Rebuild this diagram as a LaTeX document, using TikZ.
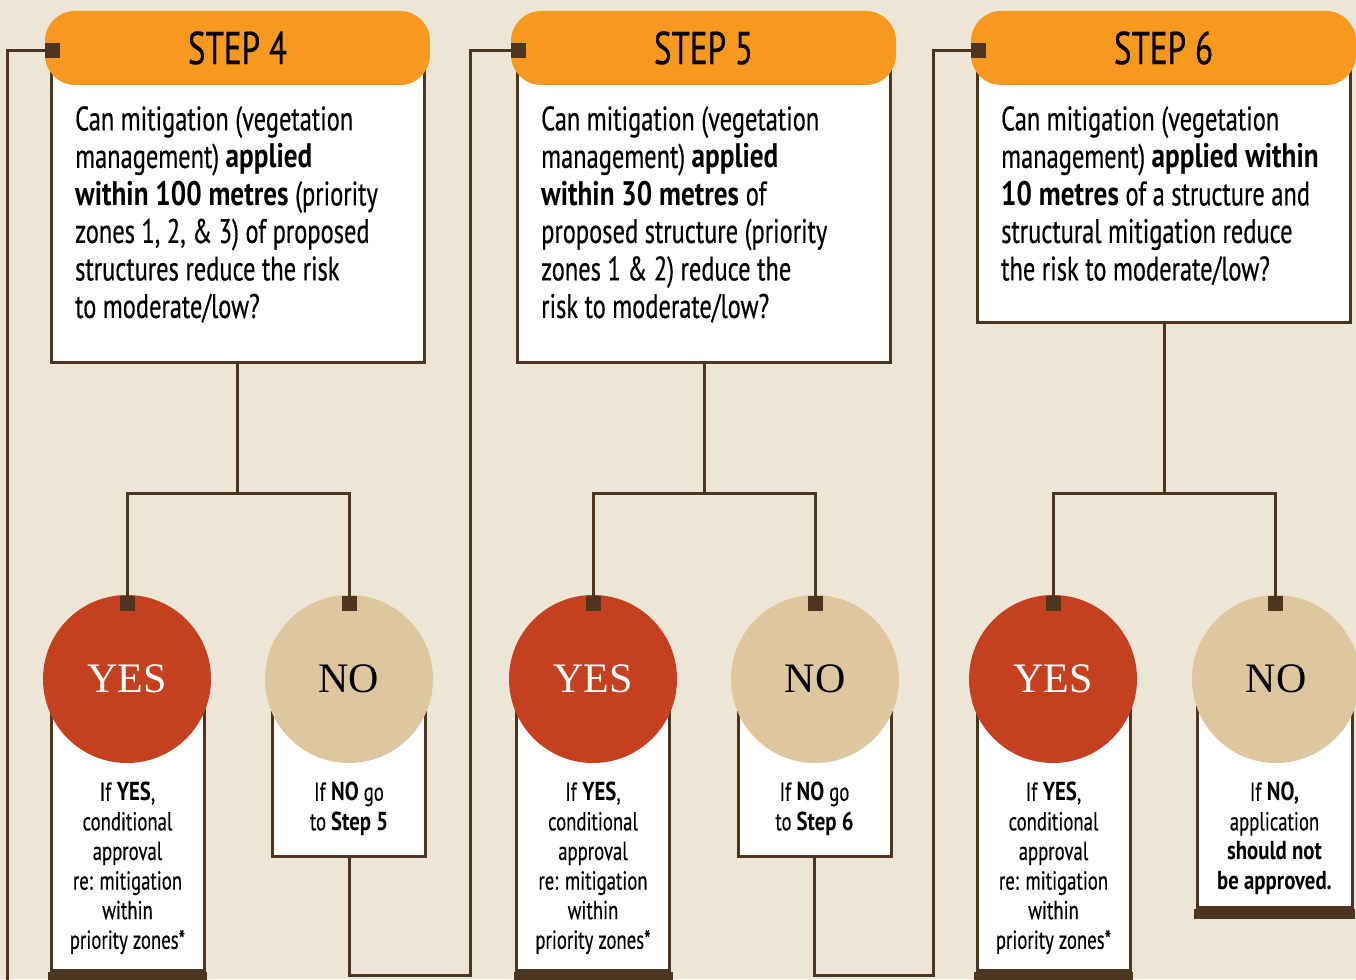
\documentclass[tikz,border=0pt]{standalone}
\usepackage{fontspec}
\setmainfont{PT Sans}[FakeStretch=0.72,
                      UprightFeatures={FakeBold=0.4},
                      BoldFeatures={FakeStretch=0.80}]
\newfontfamily\answerfont{Liberation Serif}

\definecolor{pagebg}{HTML}{EDE5D5}
\definecolor{steporange}{HTML}{F7981F}
\definecolor{linkbrown}{HTML}{4E3520}
\definecolor{yesred}{HTML}{C4401E}
\definecolor{notan}{HTML}{DEC69E}

\tikzset{stephead/.style = {shape = rectangle,
                            rounded corners = 30pt,
                            fill = steporange,
                            minimum width = 385pt,
                            minimum height = 74pt,
                            font=\fontsize{46}{50}\selectfont},
         qbox/.style = {shape = rectangle,
                        fill = white,
                        draw = linkbrown,
                        line width = 3pt,
                        minimum width = 373pt},
         qtext/.style = {anchor = north west,
                         inner sep = 0pt,
                         align = left,
                         font=\fontsize{34}{37.5}\selectfont},
         abox/.style = {shape = rectangle,
                        fill = white,
                        draw = linkbrown,
                        line width = 3pt,
                        minimum width = 153pt},
         atext/.style = {anchor = north,
                         inner sep = 0pt,
                         align = center,
                         font=\fontsize{26}{29.6}\selectfont},
         yesdot/.style = {shape = circle,
                          fill = yesred,
                          text = white,
                          inner sep = 0pt,
                          minimum size = 168pt,
                          font=\answerfont\fontsize{42}{42}\selectfont},
         nodot/.style = {shape = circle,
                         fill = notan,
                         text = black,
                         inner sep = 0pt,
                         minimum size = 168pt,
                         font=\answerfont\fontsize{42}{42}\selectfont},
         tabmark/.style = {shape = rectangle,
                           fill = linkbrown,
                           inner sep = 0pt,
                           minimum size = 15pt},
         link/.style = {draw = linkbrown,
                        line width = 3pt}}

\begin{document}
\begin{tikzpicture}[x=1pt, y=-1pt]
		\fill[pagebg] (0,0) rectangle (1356,979);
		\useasboundingbox (0,0) rectangle (1356,979);

		% step 4
		\node[qbox, minimum height = 312pt] (box4) at (237.5,206) {};
		\node[stephead] (head4) at (237.5,48) {STEP 4};
		\node[tabmark] (step4mark) at (52.5,50.5) {};
		\node[qtext] (q4) at (75,106) {Can mitigation (vegetation\\
			management) \textbf{applied}\\
			\textbf{within 100 metres} (priority\\
			zones 1, 2, \& 3) of proposed\\
			structures reduce the risk\\
			to moderate/low?};
		\node[abox, minimum height = 270pt] (yes4box) at (127.5,835) {};
		\node[abox, minimum height = 156pt] (no4box) at (349,778) {};
		\fill[linkbrown] ([xshift=-1.5pt]yes4box.south west) rectangle ([xshift=1.5pt,yshift=-12pt]yes4box.south east);
		\node[yesdot] (yes4) at (127,679) {YES};
		\node[nodot] (no4) at (349,679) {NO};
		\node[tabmark] (yes4mark) at (127.5,603.5) {};
		\node[tabmark] (no4mark) at (349,603.5) {};
		\node[atext] (yes4txt) at (127.5,782) {If \textbf{YES},\\ conditional\\ approval\\ re: mitigation\\ within\\ priority zones*};
		\node[atext] (no4txt) at (349,782) {If \textbf{NO} go\\ to \textbf{Step 5}};

		% step 5
		\node[qbox, minimum height = 312pt] (box5) at (704,206) {};
		\node[stephead] (head5) at (703.5,48) {STEP 5};
		\node[tabmark] (step5mark) at (518.5,50.5) {};
		\node[qtext] (q5) at (541,106) {Can mitigation (vegetation\\
			management) \textbf{applied}\\
			\textbf{within 30 metres} of\\
			proposed structure (priority\\
			zones 1 \& 2) reduce the\\
			risk to moderate/low?};
		\node[abox, minimum height = 270pt] (yes5box) at (593,835) {};
		\node[abox, minimum height = 156pt] (no5box) at (814.5,778) {};
		\fill[linkbrown] ([xshift=-1.5pt]yes5box.south west) rectangle ([xshift=1.5pt,yshift=-12pt]yes5box.south east);
		\node[yesdot] (yes5) at (593,679) {YES};
		\node[nodot] (no5) at (815,679) {NO};
		\node[tabmark] (yes5mark) at (593,603.5) {};
		\node[tabmark] (no5mark) at (815,603.5) {};
		\node[atext] (yes5txt) at (593,782) {If \textbf{YES},\\ conditional\\ approval\\ re: mitigation\\ within\\ priority zones*};
		\node[atext] (no5txt) at (814.5,782) {If \textbf{NO} go\\ to \textbf{Step 6}};

		% step 6
		\node[qbox, minimum height = 272pt] (box6) at (1164,186) {};
		\node[stephead] (head6) at (1163.5,48) {STEP 6};
		\node[tabmark] (step6mark) at (978.5,50.5) {};
		\node[qtext] (q6) at (1001,106) {Can mitigation (vegetation\\
			management) \textbf{applied within}\\
			\textbf{10 metres} of a structure and\\
			structural mitigation reduce\\
			the risk to moderate/low?};
		\node[abox, minimum height = 270pt] (yes6box) at (1053.5,835) {};
		\node[abox, minimum height = 207pt, minimum width = 155pt] (no6box) at (1274.5,803.5) {};
		\fill[linkbrown] ([xshift=-1.5pt]yes6box.south west) rectangle ([xshift=1.5pt,yshift=-12pt]yes6box.south east);
		\fill[linkbrown] ([xshift=-1.5pt]no6box.south west) rectangle ([xshift=1.5pt,yshift=-10pt]no6box.south east);
		\node[yesdot] (yes6) at (1053,679) {YES};
		\node[nodot] (no6) at (1276,679) {NO};
		\node[tabmark] (yes6mark) at (1053.5,603.5) {};
		\node[tabmark] (no6mark) at (1275.5,603.5) {};
		\node[atext] (yes6txt) at (1053.5,782) {If \textbf{YES},\\ conditional\\ approval\\ re: mitigation\\ within\\ priority zones*};
		\node[atext] (no6txt) at (1274.5,782) {If \textbf{NO,}\\ application\\ \textbf{should not}\\ \textbf{be approved.}};

		% links
		\path[link] (box4.south) -- ++(0,130) -| (yes4mark.north);
		\path[link] (box4.south) -- ++(0,130) -| (no4mark.north);
		\path[link] (box5.south) -- ++(0,130) -| (yes5mark.north);
		\path[link] (box5.south) -- ++(0,130) -| (no5mark.north);
		\path[link] (box6.south) -- ++(0,170) -| (yes6mark.north);
		\path[link] (box6.south) -- ++(0,170) -| (no6mark.north);
		\coordinate (in4) at (7,990);
		\coordinate (turn4) at (470,975);
		\coordinate (turn5) at (933,975);
		\path[link] (in4) |- (step4mark.west);
		\path[link] (no4box.south) |- (turn4) |- (step5mark.west);
		\path[link] (no5box.south) |- (turn5) |- (step6mark.west);
	\end{tikzpicture}
\end{document}
